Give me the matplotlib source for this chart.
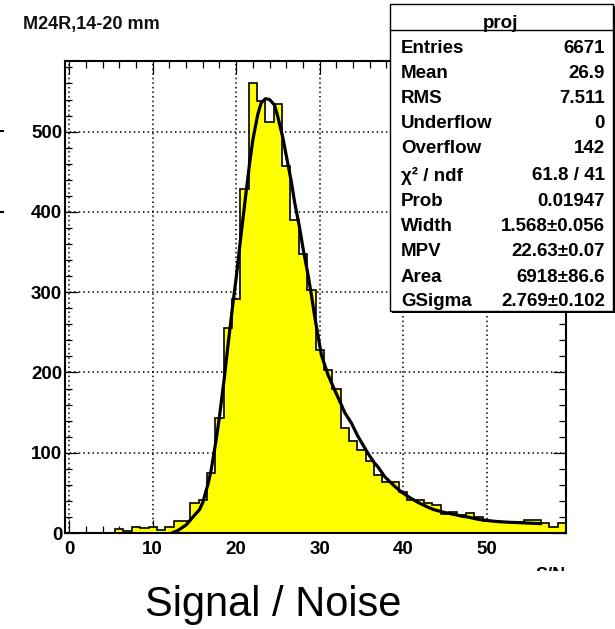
import numpy as np
import matplotlib
matplotlib.use('Agg')
import matplotlib.pyplot as plt
from matplotlib import font_manager
from matplotlib.patches import Rectangle
from matplotlib.ticker import MultipleLocator

# ---------------- data ----------------
bin_centers = list(range(0, 60))
counts = [0, 0, 0, 0, 0, 0, 5, 2, 8, 6,
          7, 4, 8, 15, 15, 37, 41, 75, 143, 255,
          291, 428, 560, 538, 512, 535, 457, 390, 348, 303,
          228, 203, 180, 131, 114, 104, 90, 72, 63, 63,
          51, 41, 41, 37, 35, 24, 26, 22, 25, 20,
          15, 15, 14, 14, 14, 16, 16, 12, 8, 13]

fit_x = [12.3, 13.0, 14.0, 14.5, 15.0, 15.6, 16.0, 16.6, 17.0, 17.6,
         18.0, 18.6, 19.0, 19.6, 20.0, 20.6, 21.0, 21.6, 22.0, 22.6,
         23.0, 23.5, 24.0, 24.6, 25.0, 25.6, 26.0, 26.6, 27.0, 27.6,
         28.0, 28.6, 29.0, 29.4, 30.2, 31.0, 31.8, 32.5, 33.0, 33.8,
         34.5, 35.0, 35.8, 36.5, 37.0, 37.8, 38.5, 39.0, 39.8, 40.8,
         41.8, 43.0, 43.7, 45.0, 45.7, 47.0, 47.7, 49.0, 49.7, 51.0,
         51.7, 53.0, 53.7, 55.0, 55.7, 56.5]
fit_y = [0, 3, 10, 16, 22, 29, 38, 60, 78, 116,
         145, 195, 232, 285, 318, 373, 408, 460, 490, 522,
         536, 541, 540, 533, 518, 492, 470, 438, 412, 380,
         355, 322, 297, 270, 222, 197, 178, 162, 150, 137,
         122, 113, 99, 88, 82, 70, 63, 58, 51, 44,
         38, 32, 29, 25.5, 24, 21, 20, 17, 16, 14.5,
         14, 13.2, 13, 12.3, 12, 11.7]

title = "M24R,14-20 mm"
stat_labels = ["Entries", "Mean", "RMS", "Underflow", "Overflow",
               "\u03c7\u00b2 / ndf", "Prob", "Width", "MPV", "Area", "GSigma"]
stat_values = ["6671", "26.9", "7.511", "0", "142", "61.8 / 41", "0.01947",
               "1.568\u00b10.056", "22.63\u00b10.07", "6918\u00b186.6",
               "2.769\u00b10.102"]
xticks = [0, 10, 20, 30, 40, 50]
yticks = [0, 100, 200, 300, 400, 500]

# ---------------- fonts ----------------
avail = {f.name for f in font_manager.fontManager.ttflist}
narrow = None
for cand in ["Liberation Sans Narrow", "Arial Narrow", "DejaVu Sans Condensed",
             "Liberation Sans"]:
    if cand in avail:
        narrow = cand
        break
if narrow is None:
    narrow = "DejaVu Sans"
regular = "Liberation Sans" if "Liberation Sans" in avail else "DejaVu Sans"
NF = [narrow, "DejaVu Sans"]

# ---------------- figure ----------------
fig = plt.figure(figsize=(6.15, 6.29), dpi=100)
W, H = 615.0, 629.0
L, R, T, B = 65, 566, 61, 533
ax = fig.add_axes([L / W, 1 - B / H, (R - L) / W, (B - T) / H])

edges = np.arange(len(bin_centers) + 1) - 0.5
ax.hist(bin_centers, bins=edges, weights=counts, histtype='stepfilled',
        facecolor='#ffff00', edgecolor='none', zorder=2)
ax.hist(bin_centers, bins=edges, weights=counts, histtype='step',
        color='black', lw=1.2, zorder=3)
ax.plot(fit_x, fit_y, color='black', lw=2.3, zorder=4,
        solid_capstyle='round')

ax.set_xlim(-0.5, 59.5)
ax.set_ylim(0, 588)
ax.set_xticks(xticks)
ax.set_yticks(yticks)
ax.xaxis.set_minor_locator(MultipleLocator(2))
ax.yaxis.set_minor_locator(MultipleLocator(20))
ax.tick_params(which='both', direction='in', top=True, right=True, width=0.9,
               color='black')
ax.tick_params(which='major', length=9.5)
ax.tick_params(which='minor', length=5)
ax.tick_params(axis='x', which='major', pad=6)
ax.tick_params(axis='y', which='major', pad=2)
for lab in ax.get_xticklabels() + ax.get_yticklabels():
    lab.set_fontfamily(NF)
    lab.set_fontweight('bold')
    lab.set_fontsize(13.5)
ax.grid(True, which='major', color='black', lw=1.1, ls=(0, (1, 2)))
ax.set_axisbelow(True)
for sp in ax.spines.values():
    sp.set_linewidth(1.5)
    sp.set_zorder(5)

# ---------------- overlay in pixel coordinates ----------------
ov = fig.add_axes([0, 0, 1, 1], zorder=10)
ov.set_xlim(0, W)
ov.set_ylim(H, 0)
ov.set_axis_off()

# title
ov.text(23, 24, title, ha='left', va='center', fontsize=13,
        fontweight='bold', family=NF, color='#111111')

# stats box
bx0, by0, bx1, by1 = 390, 4, 613, 311
ov.add_patch(Rectangle((bx0 + 2, by0 + 2), bx1 - bx0, by1 - by0,
                       facecolor='black', edgecolor='none'))
ov.add_patch(Rectangle((bx0, by0), bx1 - bx0, by1 - by0,
                       facecolor='white', edgecolor='black', lw=1.0))
ov.plot([bx0, bx1], [29.5, 29.5], color='black', lw=1.0)
ov.text(501, 27.5, "proj", ha='center', va='baseline', fontsize=13.5,
        fontweight='bold', family=NF)
row_y = [48.3, 73.3, 98.3, 123.3, 148.3, 176, 201.7, 226.7, 251.7, 277, 302]
for lab, val, yy in zip(stat_labels, stat_values, row_y):
    ov.text(401, yy, lab, ha='left', va='center', fontsize=13.5,
            fontweight='bold', family=NF)
    ov.text(605, yy, val, ha='right', va='center', fontsize=13.5,
            fontweight='bold', family=NF)

# cut-off axis title "S/N"
ov.text(566, 567.5, "S/N", ha='right', va='top', fontsize=13,
        fontweight='bold', family=NF)
ov.add_patch(Rectangle((525, 571), 60, 30, facecolor='white',
                       edgecolor='none', zorder=20))

# small cropped marks at the left edge
for yy in [131, 212]:
    ov.plot([0, 3], [yy, yy], color='black', lw=1.5)

# big x label
ov.text(273, 605, "Signal / Noise", ha='center', va='center', fontsize=30,
        family=[regular, "DejaVu Sans"], zorder=30)

fig.savefig('out.png', dpi=100)
